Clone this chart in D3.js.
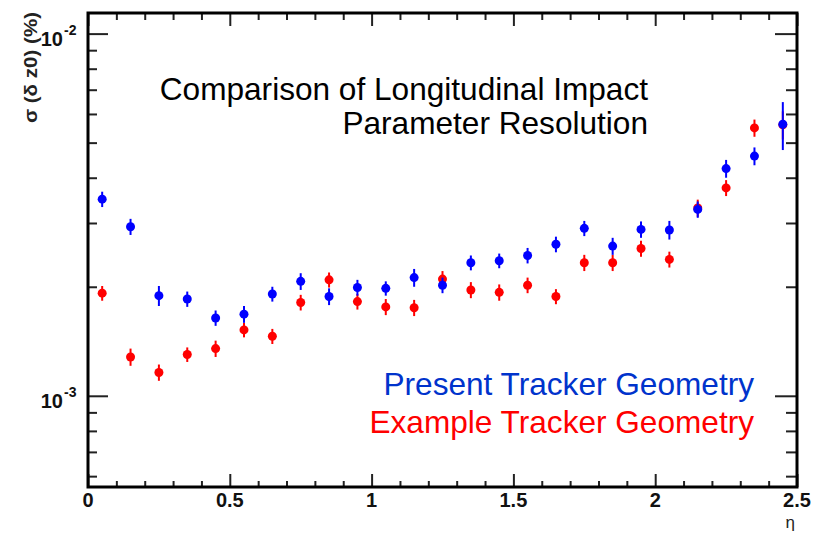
<!DOCTYPE html>
<html>
<head>
<meta charset="utf-8">
<script src="https://cdn.jsdelivr.net/npm/d3@7"></script>
<style>
  body { margin: 0; background: #fff; }
  svg { display: block; font-family: "Liberation Sans", Arial, Helvetica, sans-serif; }
</style>
</head>
<body>
<div id="chart"></div>
<script>
// eta bin centres
var etaBins = [0.05, 0.15, 0.25, 0.35, 0.45, 0.55, 0.65, 0.75, 0.85, 0.95,
               1.05, 1.15, 1.25, 1.35, 1.45, 1.55, 1.65, 1.75, 1.85, 1.95,
               2.05, 2.15, 2.25, 2.35, 2.45];

// sigma(delta z0) in %, present geometry (blue)
var presentSigma = [3.49e-3, 2.93e-3, 1.89e-3, 1.85e-3, 1.64e-3, 1.68e-3, 1.91e-3, 2.07e-3, 1.88e-3, 1.99e-3,
                    1.98e-3, 2.12e-3, 2.02e-3, 2.33e-3, 2.36e-3, 2.44e-3, 2.62e-3, 2.90e-3, 2.59e-3, 2.88e-3,
                    2.87e-3, 3.27e-3, 4.24e-3, 4.59e-3, 5.62e-3];
var presentErr = [0.17e-3, 0.15e-3, 0.12e-3, 0.09e-3, 0.08e-3, 0.09e-3, 0.09e-3, 0.11e-3, 0.10e-3, 0.10e-3,
                  0.09e-3, 0.12e-3, 0.10e-3, 0.11e-3, 0.11e-3, 0.12e-3, 0.13e-3, 0.14e-3, 0.14e-3, 0.15e-3,
                  0.17e-3, 0.17e-3, 0.24e-3, 0.26e-3, 0.85e-3];

// example geometry (red)
var exampleSigma = [1.92e-3, 1.28e-3, 1.16e-3, 1.30e-3, 1.35e-3, 1.52e-3, 1.46e-3, 1.81e-3, 2.09e-3, 1.82e-3,
                    1.76e-3, 1.75e-3, 2.10e-3, 1.96e-3, 1.93e-3, 2.02e-3, 1.88e-3, 2.33e-3, 2.33e-3, 2.55e-3,
                    2.38e-3, 3.30e-3, 3.75e-3, 5.49e-3, 5.60e-3];
var exampleErr = [0.09e-3, 0.07e-3, 0.06e-3, 0.06e-3, 0.07e-3, 0.07e-3, 0.07e-3, 0.09e-3, 0.10e-3, 0.09e-3,
                  0.09e-3, 0.09e-3, 0.11e-3, 0.10e-3, 0.10e-3, 0.10e-3, 0.09e-3, 0.12e-3, 0.12e-3, 0.13e-3,
                  0.12e-3, 0.18e-3, 0.19e-3, 0.30e-3, 0.50e-3];

var xMajorTicks = [0, 0.5, 1, 1.5, 2, 2.5];
var xTickLabels = ["0", "0.5", "1", "1.5", "2", "2.5"];
var yDecades = [1e-3, 1e-2];
var yDecadeLabels = ["-3", "-2"];

var svgWidth = 830;
var svgHeight = 534;

var svg = d3.select("#chart")
  .append("svg")
  .attr("width", svgWidth)
  .attr("height", svgHeight);

var xScale = d3.scaleLinear()
  .domain([0, 2.5])
  .range([88, 797]);

var yScale = d3.scaleLog()
  .domain([5.6e-4, 1.14e-2])
  .range([487, 13]);

// minor tick positions
var xMinor = d3.range(0, 26).map(function(i) { return i / 10; })
  .filter(function(v) { return Math.abs(v * 2 - Math.round(v * 2)) > 1e-6; });
var yMinor = yScale.ticks().filter(function(v) {
  var l = Math.log10(v);
  return Math.abs(l - Math.round(l)) > 1e-6;
});

var x0 = xScale.range()[0], x1 = xScale.range()[1];
var y0 = yScale.range()[0], y1 = yScale.range()[1];

function axisGroup(axis, tx, ty) {
  var g = svg.append("g")
    .attr("transform", "translate(" + tx + "," + ty + ")")
    .call(axis);
  g.select(".domain").remove();
  g.selectAll("line").attr("stroke", "#222").attr("stroke-width", 2);
  g.selectAll("text").remove();
  return g;
}

// ticks, all pointing into the frame
axisGroup(d3.axisBottom(xScale).tickValues(xMajorTicks).tickSize(-13), 0, y0);
axisGroup(d3.axisBottom(xScale).tickValues(xMinor).tickSize(-6), 0, y0);
axisGroup(d3.axisTop(xScale).tickValues(xMajorTicks).tickSize(-13), 0, y1);
axisGroup(d3.axisTop(xScale).tickValues(xMinor).tickSize(-7), 0, y1);
axisGroup(d3.axisLeft(yScale).tickValues(yDecades).tickSize(-20), x0, 0);
axisGroup(d3.axisLeft(yScale).tickValues(yMinor).tickSize(-9), x0, 0);
axisGroup(d3.axisRight(yScale).tickValues(yDecades).tickSize(-22), x1, 0);
axisGroup(d3.axisRight(yScale).tickValues(yMinor).tickSize(-11), x1, 0);

// frame
svg.append("rect")
  .attr("x", x0)
  .attr("y", y1)
  .attr("width", x1 - x0)
  .attr("height", y0 - y1)
  .attr("fill", "none")
  .attr("stroke", "#000")
  .attr("stroke-width", 3);

// x tick labels
svg.append("g").selectAll("text")
  .data(xMajorTicks)
  .enter()
  .append("text")
  .attr("x", function(d) { return xScale(d); })
  .attr("y", 507)
  .attr("text-anchor", "middle")
  .attr("font-size", 20)
  .attr("font-weight", "bold")
  .attr("fill", "#111")
  .text(function(d, i) { return xTickLabels[i]; });

// y decade labels 10^n
var yLab = svg.append("g").selectAll("g")
  .data(yDecades)
  .enter()
  .append("g");
yLab.append("text")
  .attr("x", 63)
  .attr("y", function(d) { return yScale(d) + 12; })
  .attr("text-anchor", "end")
  .attr("font-size", 20)
  .attr("font-weight", "bold")
  .attr("fill", "#111")
  .text("10");
yLab.append("text")
  .attr("x", 64)
  .attr("y", function(d) { return yScale(d) + 1; })
  .attr("font-size", 14)
  .attr("font-weight", "bold")
  .attr("fill", "#111")
  .text(function(d, i) { return yDecadeLabels[i]; });

// axis titles
svg.append("text")
  .attr("transform", "translate(37,12) rotate(-90)")
  .attr("text-anchor", "end")
  .attr("font-size", 18)
  .attr("font-weight", "bold")
  .attr("fill", "#222")
  .attr("textLength", 111)
  .attr("lengthAdjust", "spacingAndGlyphs")
  .text("σ (δ z0) (%)");

svg.append("text")
  .attr("x", 795)
  .attr("y", 528)
  .attr("text-anchor", "end")
  .attr("font-size", 17)
  .attr("fill", "#222")
  .text("η");

// data points with vertical error bars
function drawSeries(values, errs, color) {
  var g = svg.append("g");
  g.selectAll("line")
    .data(values)
    .enter()
    .append("line")
    .attr("x1", function(d, i) { return xScale(etaBins[i]); })
    .attr("x2", function(d, i) { return xScale(etaBins[i]); })
    .attr("y1", function(d, i) { return yScale(d - errs[i]); })
    .attr("y2", function(d, i) { return yScale(d + errs[i]); })
    .attr("stroke", color)
    .attr("stroke-width", 2);
  g.selectAll("circle")
    .data(values)
    .enter()
    .append("circle")
    .attr("cx", function(d, i) { return xScale(etaBins[i]); })
    .attr("cy", function(d) { return yScale(d); })
    .attr("r", 4.5)
    .attr("fill", color);
}
drawSeries(exampleSigma, exampleErr, "#ff0000");
drawSeries(presentSigma, presentErr, "#0000ff");

// annotations
var note = svg.append("g")
  .attr("font-size", 31.6)
  .attr("text-anchor", "end");
note.append("text").attr("x", 648).attr("y", 100).attr("fill", "#000")
  .text("Comparison of Longitudinal Impact");
note.append("text").attr("x", 648).attr("y", 134).attr("fill", "#000")
  .text("Parameter Resolution");
note.append("text").attr("x", 754).attr("y", 395).attr("fill", "#0033cc")
  .text("Present Tracker Geometry");
note.append("text").attr("x", 754).attr("y", 433).attr("fill", "#ff0000")
  .text("Example Tracker Geometry");
</script>
</body>
</html>
